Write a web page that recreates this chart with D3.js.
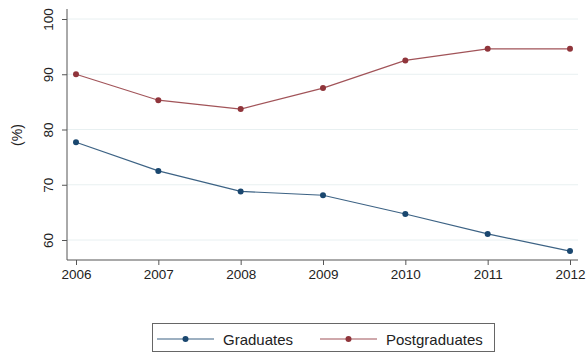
<!DOCTYPE html>
<html><head><meta charset="utf-8">
<script src="https://cdn.jsdelivr.net/npm/d3@7"></script>
<style>body{margin:0;background:#fff}svg{display:block}text{font-family:"Liberation Sans",Arial,sans-serif}</style>
</head><body>
<svg id="c" width="586" height="354"></svg>
<script>
const years = [2006, 2007, 2008, 2009, 2010, 2011, 2012];
const graduates = [77.7, 72.5, 68.8, 68.1, 64.7, 61.1, 58.0];
const postgraduates = [90.0, 85.3, 83.7, 87.5, 92.5, 94.6, 94.6];
const yTicks = [60, 70, 80, 90, 100];
const seriesNames = ["Graduates", "Postgraduates"];
const colors = ["#1a476f", "#90353b"];

(function () {
const svg = d3.select("#c");
const x = d3.scalePoint().domain(years).range([76, 570]);
const y = d3.scaleLinear().domain([60, 100]).range([240, 19]);
const pLeft = 67, pBottom = 260, pRight = 578, pTop = 9;

// gridlines
svg.append("g").selectAll("line").data(yTicks).join("line")
  .attr("x1", pLeft).attr("x2", pRight)
  .attr("y1", d => y(d)).attr("y2", d => y(d))
  .attr("stroke", "#e8f0f1").attr("stroke-width", 1);

// y axis
const ya = svg.append("g").attr("transform", `translate(${pLeft},0)`)
  .call(d3.axisLeft(y).tickValues(yTicks).tickSize(5).tickPadding(6));
ya.select(".domain").attr("d", `M0,${pTop}V${pBottom}`).attr("stroke", "#555");
ya.selectAll(".tick line").attr("stroke", "#555");
ya.selectAll(".tick text").attr("transform", "rotate(-90)")
  .attr("x", 0).attr("y", -19).attr("dy", "0.35em")
  .style("text-anchor", "middle").attr("font-size", 13.5).attr("fill", "#222");

// x axis
const xa = svg.append("g").attr("transform", `translate(0,${pBottom})`)
  .call(d3.axisBottom(x).tickSize(5).tickPadding(4));
xa.select(".domain").attr("d", `M${pLeft},0H${pRight}`).attr("stroke", "#555");
xa.selectAll(".tick line").attr("stroke", "#555");
xa.selectAll(".tick text").attr("font-size", 13.5).attr("fill", "#222");

// y title
svg.append("text").attr("transform", "translate(17.5,135) rotate(-90)")
  .attr("text-anchor", "middle").attr("dy", "0.35em").attr("font-size", 14).attr("fill", "#222").text("(%)");

const line = d3.line().x((d, i) => x(years[i])).y(d => y(d));
[graduates, postgraduates].forEach((s, k) => {
  svg.append("path").datum(s).attr("d", line).attr("fill", "none")
    .attr("stroke", colors[k]).attr("stroke-width", 1.2).attr("stroke-opacity", 0.85);
  svg.append("g").selectAll("circle").data(s).join("circle")
    .attr("cx", (d, i) => x(years[i])).attr("cy", d => y(d)).attr("r", 3).attr("fill", colors[k]);
});

// legend
const lg = svg.append("g");
lg.append("rect").attr("x", 152.5).attr("y", 323.5).attr("width", 342).attr("height", 28)
  .attr("fill", "#fff").attr("stroke", "#666");
const lx = [157, 320], tx = [223, 386];
seriesNames.forEach((n, k) => {
  lg.append("line").attr("x1", lx[k]).attr("x2", lx[k] + 57).attr("y1", 339).attr("y2", 339)
    .attr("stroke", colors[k]).attr("stroke-width", 1.2).attr("stroke-opacity", 0.85);
  lg.append("circle").attr("cx", lx[k] + 28.5).attr("cy", 339).attr("r", 3).attr("fill", colors[k]);
  lg.append("text").attr("x", tx[k]).attr("y", 340).attr("dy", "0.35em")
    .attr("font-size", 15).attr("fill", "#222").text(n);
});
})();
</script>
</body></html>
